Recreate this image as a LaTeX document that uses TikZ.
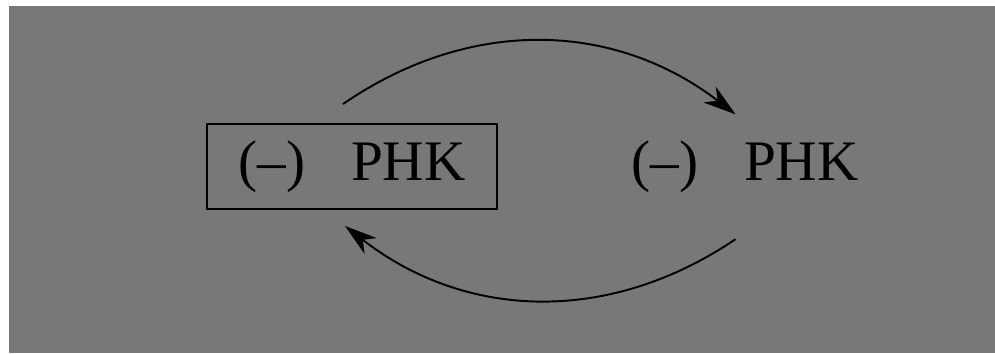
\documentclass[tikz,border=0pt]{standalone}
\usepackage{fontspec}
\setmainfont{Liberation Serif}
\usetikzlibrary{arrows.meta, positioning}
\definecolor{scangray}{RGB}{120,120,120}

\begin{document}
\begin{tikzpicture}[node distance=2cm]
		\useasboundingbox (0,0) rectangle (19.9,7.06);
		\fill[white] (0,0) rectangle (19.9,7.06);
		\fill[scangray] (0.18,0) rectangle (19.9,6.94);
		
		\node[rectangle,draw,line width=1.1pt,minimum width=5.8cm,minimum height=1.7cm,align=center,font=\fontsize{32.6pt}{36pt}\selectfont] (phkL) at (7.04,3.73) {(--)\hspace{0.8em}PHK};
		
		\node[align=center,font=\fontsize{32.6pt}{36pt}\selectfont, right of=phkL, xshift=5.86cm] (phkR) {(--)\hspace{0.8em}PHK};
		
		\draw[line width=1.1pt,-{Stealth[length=0.65cm,width=0.4cm,inset=0.2cm]}] ([xshift=-0.18cm,yshift=0.38cm]phkL.north) to[bend left=36] ([xshift=-0.19cm,yshift=0.4cm]phkR.north);
		\draw[line width=1.1pt,-{Stealth[length=0.65cm,width=0.4cm,inset=0.2cm]}] ([xshift=-0.19cm,yshift=-0.81cm]phkR.south) to[bend left=36] ([xshift=-0.14cm,yshift=-0.32cm]phkL.south);

	\end{tikzpicture}
\end{document}
